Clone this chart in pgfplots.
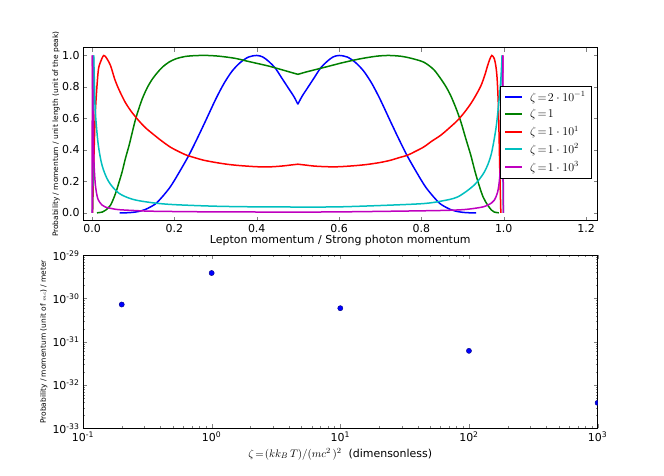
\documentclass[border=0pt]{standalone}
\usepackage{fontspec}
\setmainfont{DejaVu Sans}
\usepackage{pgfplots}
\pgfplotsset{compat=1.18}
\definecolor{mblue}{rgb}{0,0,1}
\definecolor{mgreen}{rgb}{0,0.5,0}
\definecolor{mred}{rgb}{1,0,0}
\definecolor{mcyan}{rgb}{0,0.75,0.75}
\definecolor{mmag}{rgb}{0.75,0,0.75}
\begin{document}
\begin{tikzpicture}
\useasboundingbox (0,0) rectangle (664bp,476bp);
\begin{axis}[
  at={(83bp,255.3bp)}, anchor=south west, scale only axis,
  width=514.6bp, height=173.1bp,
  xmin=-0.022, xmax=1.228, ymin=-0.05, ymax=1.05,
  xtick={0,0.2,0.4,0.6,0.8,1.0,1.2},
  ytick={0,0.2,0.4,0.6,0.8,1.0},
  /pgf/number format/assume math mode=true,
  xticklabel style={/pgf/number format/.cd, fixed, fixed zerofill, precision=1},
  yticklabel style={/pgf/number format/.cd, fixed, fixed zerofill, precision=1},
  tick label style={font=\fontsize{11}{13}\selectfont},
  xlabel={Lepton momentum / Strong photon momentum},
  xlabel style={at={(axis description cs:0.5,-0.117)}, anchor=center, font=\fontsize{11}{13}\selectfont},
  ylabel={Probability / momentum / unit length (unit of the peak)},
  ylabel style={at={(axis description cs:-0.0525,0.5)}, anchor=center, font=\fontsize{7.5}{9}\selectfont},
  major tick length=4bp, axis line style={black},
  legend style={at={(0.9885,0.778)}, anchor=north east, draw=black, fill=white,
    font=\fontsize{12}{14}\selectfont, row sep=2.8bp, column sep=5bp,
    inner xsep=4bp, inner ysep=3.5bp, cells={anchor=west}},
  legend image code/.code={\draw[#1, line width=2bp] (0bp,0bp) -- (17bp,0bp);},
  every axis plot/.append style={line width=1.5bp},
]
% zeta = 0.2
\addplot[mblue, smooth, tension=0.5] coordinates {
(0.067,0) (0.09,0.001) (0.112,0.008) (0.13,0.022) (0.153,0.055) (0.17,0.10)
(0.19,0.165) (0.21,0.25) (0.234,0.36) (0.255,0.47) (0.275,0.58) (0.30,0.72)
(0.32,0.82) (0.34,0.90) (0.36,0.955) (0.38,0.99) (0.40,1.0) (0.415,0.99)
(0.43,0.96) (0.445,0.92) (0.46,0.86) (0.475,0.80) (0.49,0.74) (0.50,0.69)
};
\addlegendentry{$\zeta\!=\!2\cdot10^{-1}$}
\addplot[mblue, smooth, tension=0.5, forget plot] coordinates {
(0.50,0.69) (0.51,0.74) (0.525,0.80) (0.54,0.86) (0.555,0.92) (0.57,0.96)
(0.585,0.99) (0.60,1.0) (0.62,0.99) (0.64,0.955) (0.66,0.90) (0.68,0.82)
(0.70,0.72) (0.725,0.58) (0.745,0.47) (0.766,0.36) (0.79,0.25) (0.81,0.165)
(0.83,0.10) (0.847,0.055) (0.87,0.022) (0.888,0.008) (0.91,0.001) (0.933,0)
};
% zeta = 1
\addplot[mgreen, smooth, tension=0.5] coordinates {
(0.012,0) (0.025,0.005) (0.033,0.017) (0.045,0.049) (0.057,0.123) (0.065,0.19)
(0.073,0.26) (0.081,0.345) (0.09,0.429) (0.098,0.515) (0.106,0.598) (0.114,0.665)
(0.122,0.725) (0.134,0.795) (0.147,0.852) (0.16,0.895) (0.171,0.926) (0.187,0.958)
(0.204,0.979) (0.225,0.993) (0.25,0.999) (0.28,1.0) (0.31,0.995) (0.347,0.982)
(0.375,0.965) (0.40,0.95) (0.43,0.932) (0.46,0.91) (0.48,0.895) (0.50,0.88)
};
\addlegendentry{$\zeta\!=\!1$}
\addplot[mgreen, smooth, tension=0.5, forget plot] coordinates {
(0.50,0.88) (0.52,0.895) (0.55,0.915) (0.58,0.935) (0.61,0.955) (0.65,0.978)
(0.69,0.995) (0.72,1.0) (0.75,0.995) (0.775,0.982) (0.806,0.957) (0.83,0.91)
(0.847,0.852) (0.86,0.80) (0.871,0.746) (0.884,0.665) (0.896,0.577) (0.908,0.47)
(0.92,0.366) (0.93,0.265) (0.94,0.176) (0.95,0.10) (0.961,0.049) (0.97,0.018)
(0.977,0.005) (0.988,0)
};
% zeta = 10
\addplot[mred, smooth, tension=0.5] coordinates {
(0.0015,0) (0.004,0.3) (0.008,0.64) (0.0147,0.894) (0.0203,0.957) (0.0284,1.0)
(0.036,0.98) (0.045,0.935) (0.055,0.85) (0.065,0.785) (0.08,0.705) (0.095,0.645)
(0.112,0.59) (0.13,0.54) (0.153,0.49) (0.17,0.455) (0.19,0.418) (0.21,0.39)
(0.23,0.366) (0.25,0.35) (0.27,0.335) (0.30,0.32) (0.33,0.308) (0.36,0.30)
(0.40,0.293) (0.43,0.292) (0.46,0.297) (0.48,0.303) (0.50,0.309)
};
\addlegendentry{$\zeta\!=\!1\cdot10^{1}$}
\addplot[mred, smooth, tension=0.5, forget plot] coordinates {
(0.50,0.309) (0.52,0.303) (0.54,0.297) (0.57,0.293) (0.60,0.293) (0.64,0.30)
(0.67,0.308) (0.70,0.32) (0.725,0.334) (0.745,0.35) (0.766,0.366) (0.785,0.39)
(0.806,0.419) (0.825,0.455) (0.847,0.493) (0.868,0.54) (0.888,0.588) (0.905,0.64)
(0.92,0.694) (0.933,0.75) (0.945,0.81) (0.954,0.875) (0.961,0.937) (0.966,0.975)
(0.971,1.0) (0.977,0.98) (0.981,0.93) (0.984,0.85) (0.987,0.68) (0.989,0.45)
(0.991,0.2) (0.993,0)
};
% zeta = 100
\addplot[mcyan, forget plot] coordinates {(0.001,0) (0.003,0.5) (0.004,1.0)};
\addplot[mcyan, smooth, tension=0.5] coordinates {
(0.004,1.0) (0.006,0.8) (0.008,0.64) (0.0147,0.44) (0.0245,0.30) (0.04,0.20)
(0.065,0.125) (0.10,0.085) (0.15,0.063) (0.20,0.052) (0.30,0.042) (0.40,0.038)
(0.50,0.037) (0.60,0.038) (0.725,0.049) (0.806,0.059) (0.847,0.074) (0.888,0.101)
(0.928,0.176) (0.953,0.26) (0.969,0.366) (0.981,0.535) (0.988,0.70) (0.993,0.85)
(0.996,1.0)
};
\addlegendentry{$\zeta\!=\!1\cdot10^{2}$}
\addplot[mcyan, forget plot] coordinates {(0.996,1.0) (0.997,0.5) (0.999,0)};
% zeta = 1000
\addplot[mmag, forget plot] coordinates {(0.0,0) (0.0008,1.0)};
\addplot[mmag, smooth, tension=0.5] coordinates {
(0.0008,1.0) (0.003,0.5) (0.005,0.30) (0.008,0.18) (0.012,0.11) (0.016,0.078)
(0.024,0.05) (0.033,0.036) (0.05,0.026) (0.065,0.02) (0.10,0.015) (0.15,0.01)
(0.30,0.006) (0.50,0.005) (0.60,0.006) (0.725,0.01) (0.85,0.015) (0.90,0.02)
(0.928,0.028) (0.95,0.038) (0.961,0.049) (0.97,0.062) (0.977,0.08) (0.985,0.13)
(0.99,0.22) (0.994,0.40) (0.9965,0.65) (0.998,1.0)
};
\addlegendentry{$\zeta\!=\!1\cdot10^{3}$}
\addplot[mmag, forget plot] coordinates {(0.998,1.0) (0.999,0)};
\end{axis}
\begin{axis}[
  at={(83bp,47.6bp)}, anchor=south west, scale only axis,
  width=514.6bp, height=173.1bp,
  xmode=log, ymode=log,
  xmin=0.1, xmax=1000, ymin=1e-33, ymax=1e-29,
  xtick={0.1,1,10,100,1000},
  xticklabels={10\textsuperscript{-1},10\textsuperscript{0},10\textsuperscript{1},10\textsuperscript{2},10\textsuperscript{3}},
  ytick={1e-33,1e-32,1e-31,1e-30,1e-29},
  yticklabels={10\textsuperscript{-33},10\textsuperscript{-32},10\textsuperscript{-31},10\textsuperscript{-30},10\textsuperscript{-29}},
  tick label style={font=\fontsize{11}{13}\selectfont},
  xlabel={$\zeta\!=\!(kk_B\,T)/(mc^2\,)^2$\ \ (dimensonless)},
  xlabel style={at={(axis description cs:0.5,-0.148)}, anchor=center, font=\fontsize{11}{13}\selectfont},
  ylabel={Probability / momentum (unit of $\scriptstyle mc$) / meter},
  ylabel style={at={(axis description cs:-0.076,0.5)}, anchor=center, font=\fontsize{7.5}{9}\selectfont},
  major tick length=4bp, minor tick length=2bp,
  clip marker paths=true,
]
\addplot[only marks, mark=*, mark size=2.6bp, mark options={fill=mblue, draw=black!50!mblue, line width=0.4bp}] coordinates {
(0.2,7.3e-31) (1,3.9e-30) (10,6.0e-31) (100,6.2e-32) (1000,3.9e-33)
};
\end{axis}
\end{tikzpicture}
\end{document}
